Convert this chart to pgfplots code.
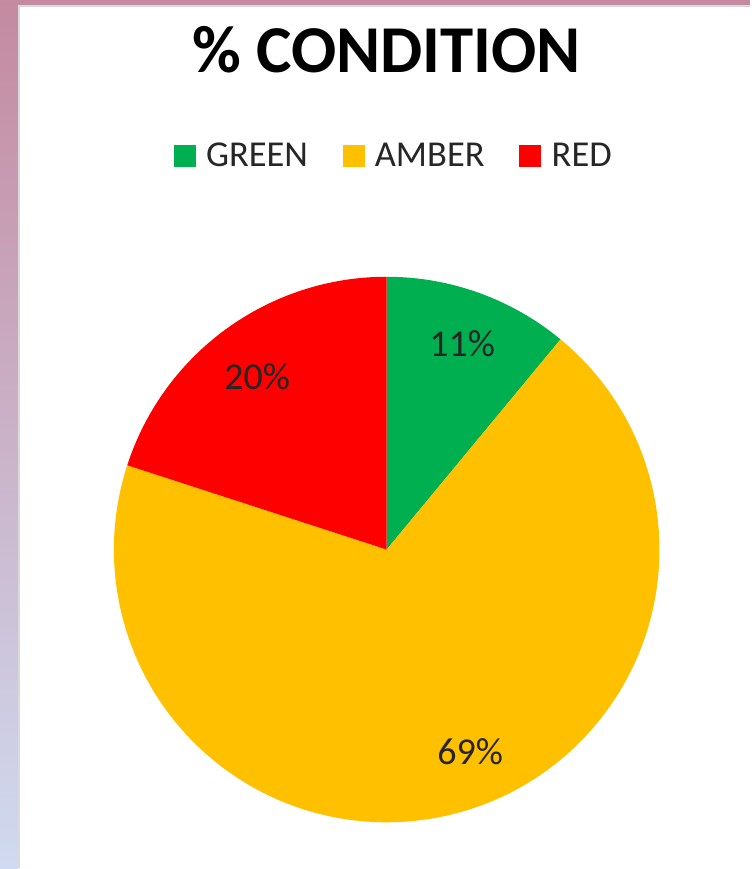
\documentclass[border=0pt]{standalone}
\usepackage{pgfplots}
\pgfplotsset{compat=1.18}
\usepackage{pgfplotstable}
\usepackage{fontspec}
\setmainfont{Carlito}
\definecolor{cgreen}{RGB}{0,176,80}
\definecolor{camber}{RGB}{255,192,0}
\definecolor{cred}{RGB}{255,0,0}
\definecolor{ctext}{RGB}{38,38,38}
\definecolor{pinkbar}{RGB}{196,138,160}
\definecolor{midbar}{RGB}{196,180,210}
\definecolor{bluebar}{RGB}{208,218,240}
\pgfplotstableread{
name value
GREEN 11
AMBER 69
RED 20
}\piedata
\pgfplotstablegetelem{0}{value}\of\piedata \let\vG\pgfplotsretval
\pgfplotstablegetelem{1}{value}\of\piedata \let\vA\pgfplotsretval
\pgfplotstablegetelem{2}{value}\of\piedata \let\vR\pgfplotsretval
\pgfmathsetmacro\aA{90}
\pgfmathsetmacro\aB{90-3.6*\vG}
\pgfmathsetmacro\aC{\aB-3.6*\vA}
\pgfmathsetmacro\aD{\aC-3.6*\vR}
\begin{document}
\begin{tikzpicture}
\begin{axis}[
  width=751pt, height=869pt, scale only axis,
  xmin=0, xmax=751, ymin=0, ymax=869, y dir=reverse,
  hide axis, clip=false,
]
% background frame
\fill[white] (axis cs:0,0) rectangle (axis cs:751,869);
\shade[top color=pinkbar, middle color=midbar, bottom color=bluebar] (axis cs:0,0) rectangle (axis cs:18,869);
\fill[pinkbar] (axis cs:0,0) rectangle (axis cs:751,5);
\draw[black!15, line width=1.5pt] (axis cs:19,6) -- (axis cs:751,6);
\draw[black!15, line width=1.5pt] (axis cs:19,6) -- (axis cs:19,869);
% title
\node[anchor=base, font=\fontsize{67}{70}\selectfont\bfseries, text=black] at (axis cs:387,73) {\% CONDITION};
% legend
\fill[cgreen] (axis cs:174,145) rectangle (axis cs:196,167);
\node[anchor=base west, inner sep=0pt, font=\fontsize{36.5}{40}\selectfont, text=ctext] at (axis cs:206,167) {GREEN};
\fill[camber] (axis cs:343,145) rectangle (axis cs:365,167);
\node[anchor=base west, inner sep=0pt, font=\fontsize{36.5}{40}\selectfont, text=ctext] at (axis cs:375,167) {AMBER};
\fill[cred] (axis cs:519,145) rectangle (axis cs:541,167);
\node[anchor=base west, inner sep=0pt, font=\fontsize{36.5}{40}\selectfont, text=ctext] at (axis cs:552,167) {RED};
% pie slices
\fill[cgreen] (axis cs:387,550) -- ++(\aA:273pt) arc[start angle=\aA, end angle=\aB, radius=273pt] -- cycle;
\fill[camber] (axis cs:387,550) -- ++(\aB:273pt) arc[start angle=\aB, end angle=\aC, radius=273pt] -- cycle;
\fill[cred] (axis cs:387,550) -- ++(\aC:273pt) arc[start angle=\aC, end angle=\aD, radius=273pt] -- cycle;
% labels
\node[anchor=base, inner sep=0pt, font=\fontsize{38}{40}\selectfont, text=ctext] at (axis cs:462.5,357) {\vG\%};
\node[anchor=base, inner sep=0pt, font=\fontsize{38}{40}\selectfont, text=ctext] at (axis cs:470.5,765) {\vA\%};
\node[anchor=base, inner sep=0pt, font=\fontsize{38}{40}\selectfont, text=ctext] at (axis cs:257.5,390) {\vR\%};
\end{axis}
\end{tikzpicture}
\end{document}
